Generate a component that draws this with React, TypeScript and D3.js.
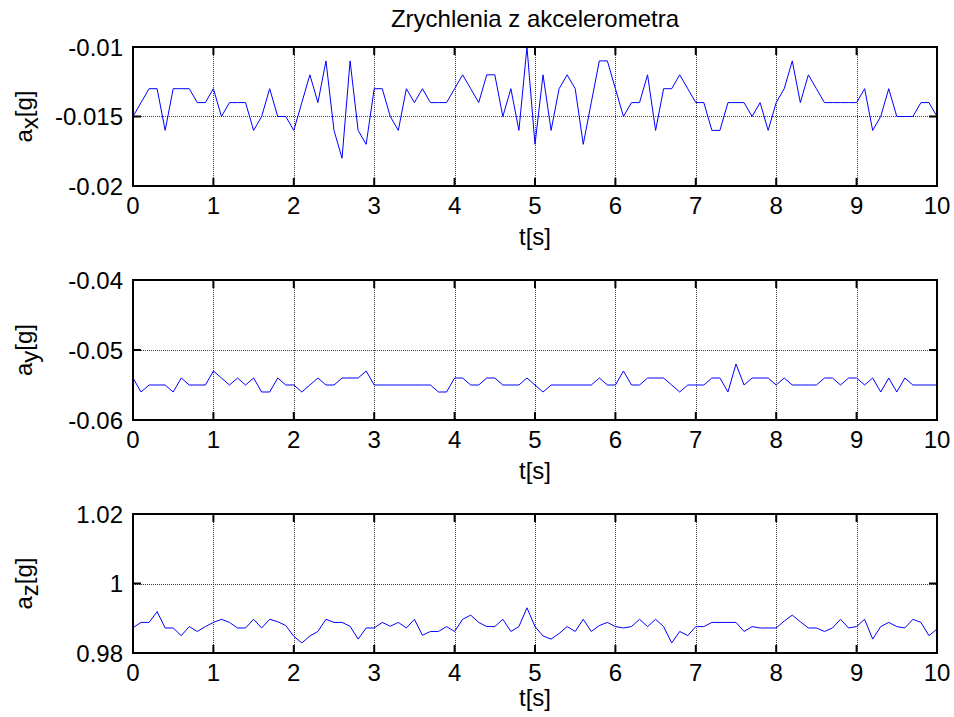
import React from 'react';
import * as d3 from 'd3';

// Sampling: 101 samples, 0.1 s apart (0 .. 10 s)
const SAMPLE_STEP = 0.1;

const axValues = [
  -0.015, -0.014, -0.013, -0.013, -0.016, -0.013, -0.013, -0.013, -0.014, -0.014,
  -0.013, -0.015, -0.014, -0.014, -0.014, -0.016, -0.015, -0.013, -0.015, -0.015,
  -0.016, -0.014, -0.012, -0.014, -0.011, -0.016, -0.018, -0.011, -0.016, -0.017,
  -0.013, -0.013, -0.015, -0.016, -0.013, -0.014, -0.013, -0.014, -0.014, -0.014,
  -0.013, -0.012, -0.013, -0.014, -0.012, -0.012, -0.015, -0.013, -0.016, -0.010,
  -0.017, -0.012, -0.016, -0.013, -0.012, -0.013, -0.017, -0.014, -0.011, -0.011,
  -0.013, -0.015, -0.014, -0.014, -0.012, -0.016, -0.013, -0.013, -0.012, -0.013,
  -0.014, -0.014, -0.016, -0.016, -0.014, -0.014, -0.014, -0.015, -0.014, -0.016,
  -0.014, -0.013, -0.011, -0.014, -0.012, -0.013, -0.014, -0.014, -0.014, -0.014,
  -0.014, -0.013, -0.016, -0.015, -0.013, -0.015, -0.015, -0.015, -0.014, -0.014,
  -0.015,
];

const ayValues = [
  -0.054, -0.056, -0.055, -0.055, -0.055, -0.056, -0.054, -0.055, -0.055, -0.055,
  -0.053, -0.054, -0.055, -0.054, -0.055, -0.054, -0.056, -0.056, -0.054, -0.055,
  -0.055, -0.056, -0.055, -0.054, -0.055, -0.055, -0.054, -0.054, -0.054, -0.053,
  -0.055, -0.055, -0.055, -0.055, -0.055, -0.055, -0.055, -0.055, -0.056, -0.056,
  -0.054, -0.054, -0.055, -0.055, -0.054, -0.054, -0.055, -0.055, -0.055, -0.054,
  -0.055, -0.056, -0.055, -0.055, -0.055, -0.055, -0.055, -0.055, -0.054, -0.055,
  -0.055, -0.053, -0.055, -0.055, -0.054, -0.054, -0.054, -0.055, -0.056, -0.055,
  -0.055, -0.055, -0.054, -0.054, -0.056, -0.052, -0.055, -0.054, -0.054, -0.054,
  -0.055, -0.054, -0.055, -0.055, -0.055, -0.055, -0.054, -0.054, -0.055, -0.054,
  -0.054, -0.055, -0.054, -0.056, -0.054, -0.056, -0.054, -0.055, -0.055, -0.055,
  -0.055,
];

const azValues = [
  0.9873, 0.9888, 0.9888, 0.9919, 0.9872, 0.9872, 0.985, 0.9876, 0.9862, 0.9876,
  0.9888, 0.9897, 0.9888, 0.9872, 0.9872, 0.9897, 0.9872, 0.9897, 0.989, 0.9879,
  0.9848, 0.9829, 0.9849, 0.9862, 0.9897, 0.9888, 0.9888, 0.9877, 0.984, 0.9872,
  0.9872, 0.9888, 0.9877, 0.9888, 0.9872, 0.9897, 0.9851, 0.9862, 0.9862, 0.9876,
  0.9862, 0.9897, 0.9909, 0.9888, 0.9876, 0.9876, 0.9897, 0.9862, 0.9876, 0.993,
  0.9876, 0.9849, 0.984, 0.9856, 0.9876, 0.9862, 0.9897, 0.9862, 0.9879, 0.9888,
  0.9876, 0.9872, 0.9876, 0.9897, 0.9876, 0.9897, 0.9876, 0.9829, 0.9862, 0.985,
  0.9876, 0.9876, 0.9888, 0.9888, 0.9888, 0.9888, 0.9862, 0.9876, 0.9872, 0.9872,
  0.9872, 0.9892, 0.9909, 0.989, 0.9872, 0.9872, 0.9862, 0.9872, 0.9897, 0.9872,
  0.9876, 0.9897, 0.984, 0.9876, 0.9888, 0.9876, 0.9872, 0.9897, 0.9888, 0.985,
  0.9869,
];

const timeTicks = [0, 1, 2, 3, 4, 5, 6, 7, 8, 9, 10];
const timeTickLabels = ['0', '1', '2', '3', '4', '5', '6', '7', '8', '9', '10'];

const axTicks = [-0.02, -0.015, -0.01];
const axTickLabels = ['-0.02', '-0.015', '-0.01'];
const ayTicks = [-0.06, -0.05, -0.04];
const ayTickLabels = ['-0.06', '-0.05', '-0.04'];
const azTicks = [0.98, 1, 1.02];
const azTickLabels = ['0.98', '1', '1.02'];

const TITLE = 'Zrychlenia z akcelerometra';
const X_LABEL = 't[s]';

const WIDTH = 954;
const HEIGHT = 717;
const LEFT = 133;
const RIGHT = 937;
const PANELS = [
  { top: 47, bottom: 186, xLabelGap: 59 },
  { top: 280, bottom: 420, xLabelGap: 59 },
  { top: 514, bottom: 653, xLabelGap: 53 },
];
const FONT = '"Liberation Sans", Arial, Helvetica, sans-serif';
const FONT_SIZE = 24;
const TICK_LEN = 8;

type PanelProps = {
  top: number;
  bottom: number;
  xLabelGap: number;
  values: number[];
  ticks: number[];
  tickLabels: string[];
  sub: string;
};

// crisp 1px lines sit on half-pixel coordinates
const crisp = (v: number) => Math.round(v) + 0.5;

function Panel({ top, bottom, xLabelGap, values, ticks, tickLabels, sub }: PanelProps) {
  const x = d3.scaleLinear().domain([0, 10]).range([LEFT, RIGHT]);
  const y = d3
    .scaleLinear()
    .domain([ticks[0], ticks[ticks.length - 1]])
    .range([bottom, top]);
  const line = d3
    .line<number>()
    .x((_, i) => x(i * SAMPLE_STEP))
    .y((d) => y(d));
  const midY = (top + bottom) / 2;

  return (
    <g>
      {/* dotted grid */}
      <g stroke="#3c3c3c" strokeWidth={1} strokeDasharray="1 1" fill="none">
        {timeTicks.slice(1, -1).map((t) => (
          <line key={'gx' + t} x1={crisp(x(t))} x2={crisp(x(t))} y1={top} y2={bottom} />
        ))}
        {ticks.slice(1, -1).map((v) => (
          <line key={'gy' + v} x1={LEFT} x2={RIGHT} y1={crisp(y(v))} y2={crisp(y(v))} />
        ))}
      </g>

      {/* data trace */}
      <path d={line(values) ?? ''} fill="none" stroke="#0000ff" strokeWidth={1} />

      {/* inward tick marks on all four sides */}
      <g stroke="#000" strokeWidth={2}>
        {timeTicks.map((t) => (
          <g key={'tx' + t}>
            <line x1={x(t)} x2={x(t)} y1={bottom} y2={bottom - TICK_LEN} />
            <line x1={x(t)} x2={x(t)} y1={top} y2={top + TICK_LEN} />
          </g>
        ))}
        {ticks.map((v) => (
          <g key={'ty' + v}>
            <line x1={LEFT} x2={LEFT + TICK_LEN} y1={y(v)} y2={y(v)} />
            <line x1={RIGHT} x2={RIGHT - TICK_LEN} y1={y(v)} y2={y(v)} />
          </g>
        ))}
      </g>

      {/* axes box */}
      <rect
        x={LEFT}
        y={top}
        width={RIGHT - LEFT}
        height={bottom - top}
        fill="none"
        stroke="#000"
        strokeWidth={2}
      />

      {/* tick labels and axis labels */}
      <g fontFamily={FONT} fontSize={FONT_SIZE} fill="#000">
        {timeTicks.map((t, i) => (
          <text key={'lx' + t} x={x(t)} y={bottom + 28} textAnchor="middle">
            {timeTickLabels[i]}
          </text>
        ))}
        {ticks.map((v, i) => (
          <text key={'ly' + v} x={LEFT - 10} y={y(v) + 8.5} textAnchor="end">
            {tickLabels[i]}
          </text>
        ))}
        <text x={(LEFT + RIGHT) / 2} y={bottom + xLabelGap} textAnchor="middle">
          {X_LABEL}
        </text>
        <text transform={`translate(32, ${midY}) rotate(-90)`} textAnchor="middle">
          <tspan>a</tspan>
          <tspan dy={6}>{sub}</tspan>
          <tspan dy={-6}>[g]</tspan>
        </text>
      </g>
    </g>
  );
}

export default function App() {
  const series = [axValues, ayValues, azValues];
  const ticks = [axTicks, ayTicks, azTicks];
  const labels = [axTickLabels, ayTickLabels, azTickLabels];
  const subs = ['x', 'y', 'z'];
  return (
    <svg
      width={WIDTH}
      height={HEIGHT}
      viewBox={`0 0 ${WIDTH} ${HEIGHT}`}
      style={{ position: 'absolute', left: 0, top: 0, background: '#fff' }}
    >
      <rect x={0} y={0} width={WIDTH} height={HEIGHT} fill="#fff" />
      <text
        x={(LEFT + RIGHT) / 2}
        y={27}
        textAnchor="middle"
        fontFamily={FONT}
        fontSize={FONT_SIZE}
        fill="#000"
      >
        {TITLE}
      </text>
      {PANELS.map((p, k) => (
        <Panel
          key={k}
          top={p.top}
          bottom={p.bottom}
          xLabelGap={p.xLabelGap}
          values={series[k]}
          ticks={ticks[k]}
          tickLabels={labels[k]}
          sub={subs[k]}
        />
      ))}
    </svg>
  );
}
